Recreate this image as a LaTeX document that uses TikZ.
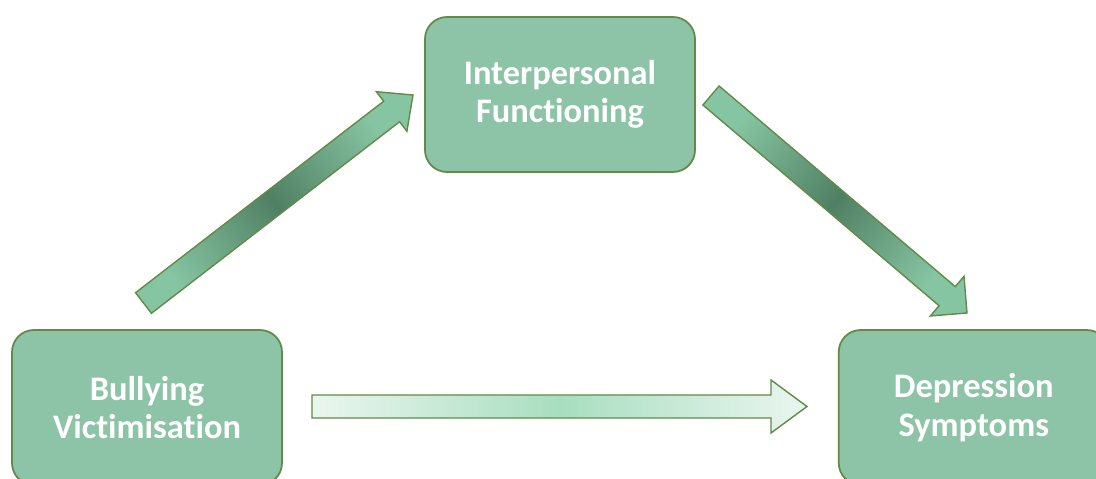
\documentclass[tikz,border=0pt]{standalone}
\usepackage{fontspec}
\setmainfont[Ligatures=NoCommon]{Carlito}
\usetikzlibrary{calc, positioning}

\definecolor{boxfill}{RGB}{141,195,166}
\definecolor{boxline}{RGB}{98,138,72}
\definecolor{arrlight}{RGB}{134,197,161}
\definecolor{arrdark}{RGB}{80,128,100}
\definecolor{flatlight}{RGB}{234,246,239}
\definecolor{flatmid}{RGB}{168,222,192}

% 太い矢印: tail, tip, 軸の半幅, 頭の半幅, 頭の長さ, style
\newcommand{\blockarrow}[6]{%
  \coordinate (hb) at ($(#2)!#5!(#1)$);
  \path[#6] ($(#1)!#3!90:(#2)$) -- ($(hb)!#3!-90:(#1)$) -- ($(hb)!#4!-90:(#1)$)
    -- (#2) -- ($(hb)!#4!90:(#1)$) -- ($(hb)!#3!90:(#1)$) -- ($(#1)!#3!-90:(#2)$) -- cycle;
}

\begin{document}
\begin{tikzpicture}[
  box/.style={draw=boxline, line width=0.5pt, fill=boxfill, rounded corners=0.22cm,
    minimum width=2.7cm, minimum height=1.55cm, align=center, text=white,
    font=\bfseries\fontsize{9.8}{10.9}\selectfont},
  slant/.style={draw=boxline, line width=0.4pt, top color=arrlight, bottom color=arrlight,
    middle color=arrdark, shading angle=#1},
  flat/.style={draw=boxline, line width=0.4pt, left color=flatlight, right color=flatlight,
    middle color=flatmid}
]
  \clip (0,0) rectangle (10.96,4.79);

  % 箱
  \node[box] (ipf) at (5.60,3.845) {Interpersonal\\Functioning};
  \node[box] (bv) at (1.47,0.715) {Bullying\\Victimisation};
  \node[box, right=5.55cm of bv] (ds) {Depression\\Symptoms};

  % 矢印の端
  \coordinate (a-tail) at (1.435,1.76);
  \coordinate (a-tip) at (4.13,3.84);
  \coordinate (b-tail) at (7.11,3.835);
  \coordinate (b-tip) at (9.67,1.66);
  \coordinate (c-tail) at (3.12,0.725);
  \coordinate (c-tip) at (8.07,0.725);

  % 矢印
  \blockarrow{a-tail}{a-tip}{0.13cm}{0.25cm}{0.27cm}{slant=-52.3}
  \blockarrow{b-tail}{b-tip}{0.125cm}{0.26cm}{0.26cm}{slant=-130.4}
  \blockarrow{c-tail}{c-tip}{0.115cm}{0.265cm}{0.36cm}{flat}
\end{tikzpicture}
\end{document}
